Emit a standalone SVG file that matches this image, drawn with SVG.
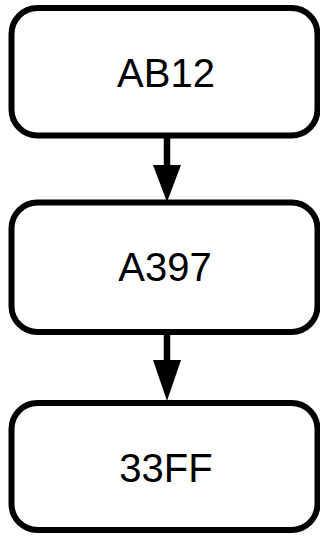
<svg xmlns="http://www.w3.org/2000/svg" width="320" height="536" viewBox="0 0 320 536">
  <style>
    .box { fill: #ffffff; stroke: #000000; stroke-width: 6; }
    .label { font-family: "Liberation Sans", Arial, sans-serif; font-size: 40px; fill: #000000; text-anchor: middle; }
    .edge { stroke: #000000; stroke-width: 6.5; fill: none; }
    .head { fill: #000000; stroke: none; }
  </style>
  <rect width="320" height="536" fill="#ffffff"/>
  <g id="connectors">
    <g id="edge-AB12-A397">
      <line class="edge" x1="167" y1="135" x2="167" y2="166"/>
      <polygon class="head" points="153,165 181,165 167,202"/>
    </g>
    <g id="edge-A397-33FF">
      <line class="edge" x1="167" y1="331" x2="167" y2="361"/>
      <polygon class="head" points="153,360 181,360 167,401"/>
    </g>
  </g>
  <g id="node-AB12">
    <rect class="box" x="11.5" y="8" width="306" height="127.5" rx="26" ry="26"/>
    <text class="label" x="166" y="86.5">AB12</text>
  </g>
  <g id="node-A397">
    <rect class="box" x="11.5" y="202.5" width="306" height="129.5" rx="26" ry="26"/>
    <text class="label" x="165" y="281">A397</text>
  </g>
  <g id="node-33FF">
    <rect class="box" x="11.5" y="403" width="306" height="127" rx="26" ry="26"/>
    <text class="label" x="166" y="481.5">33FF</text>
  </g>
</svg>
